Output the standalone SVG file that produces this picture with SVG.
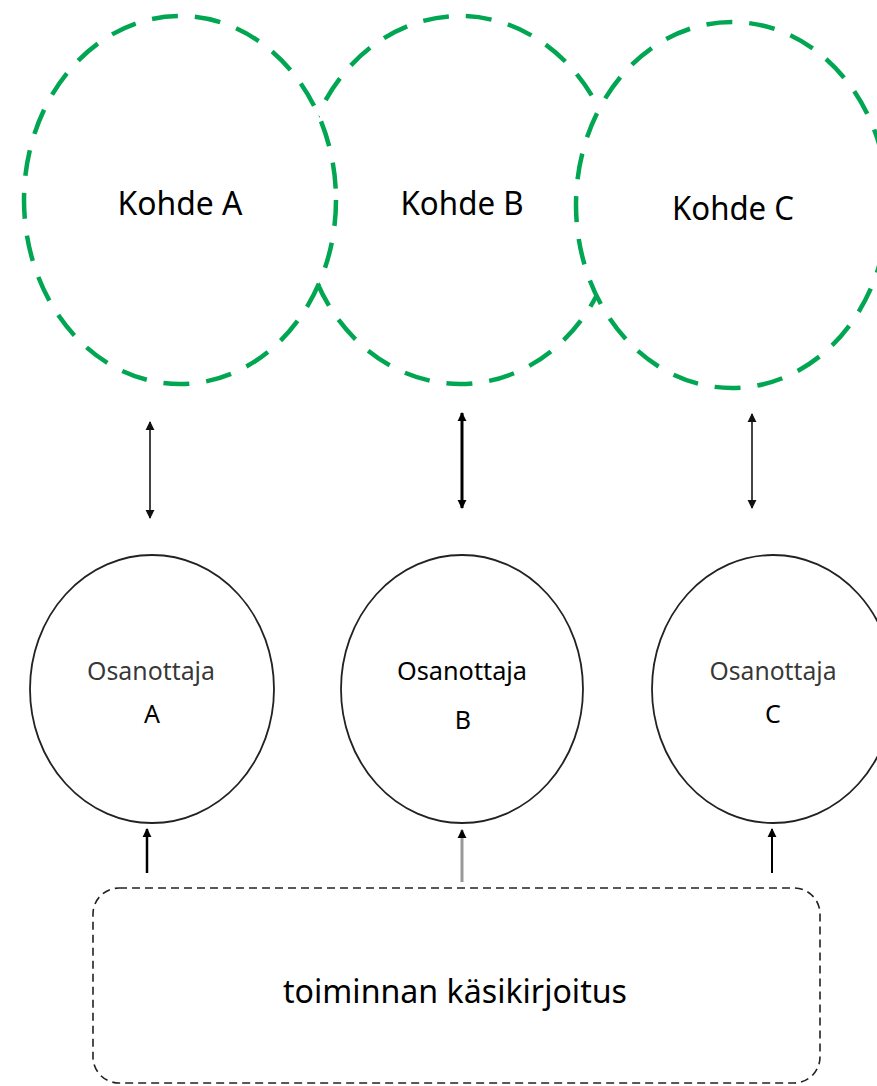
<svg xmlns="http://www.w3.org/2000/svg" width="877" height="1086" viewBox="0 0 877 1086">
<style>
.kohde{fill:#fff;stroke:#00a651;stroke-width:4.5;stroke-dasharray:26 17}
.osa{fill:#fff;stroke:#222;stroke-width:1.8}
.t{font-family:"Noto Sans","Liberation Sans",sans-serif;fill:#000;text-anchor:middle}
.big{font-size:32px}
.small{font-size:25px}
.box{fill:none;stroke:#222;stroke-width:1.6;stroke-dasharray:8 5}
</style>
<defs>
<marker id="ah" viewBox="0 0 10 10" refX="9" refY="5" markerWidth="9" markerHeight="11" markerUnits="userSpaceOnUse" orient="auto-start-reverse">
<path d="M0,0 L10,5 L0,10 z" fill="#000"/>
</marker>
<marker id="ahg" viewBox="0 0 10 10" refX="9" refY="5" markerWidth="9" markerHeight="11" markerUnits="userSpaceOnUse" orient="auto-start-reverse">
<path d="M0,0 L10,5 L0,10 z" fill="#111"/>
</marker>
</defs>
<rect width="877" height="1086" fill="#fff"/>
<g id="kohdeB">
<ellipse class="kohde" cx="460" cy="200" rx="160" ry="184"/>
<text class="t big" x="462" y="215" textLength="123" lengthAdjust="spacingAndGlyphs">Kohde B</text>
</g>
<g id="kohdeA">
<ellipse class="kohde" cx="180" cy="200" rx="156" ry="184"/>
<text class="t big" x="180" y="215" textLength="125" lengthAdjust="spacingAndGlyphs">Kohde A</text>
</g>
<g id="kohdeC">
<ellipse class="kohde" cx="732" cy="205" rx="156" ry="183"/>
<text class="t big" x="733" y="220" textLength="122" lengthAdjust="spacingAndGlyphs">Kohde C</text>
</g>
<g id="osanottajaA">
<ellipse class="osa" cx="152" cy="689" rx="122" ry="134"/>
<text class="t small" x="151" y="680" textLength="128" lengthAdjust="spacingAndGlyphs" fill-opacity="0.8">Osanottaja</text>
<text class="t small" x="152" y="723">A</text>
</g>
<g id="osanottajaB">
<ellipse class="osa" cx="462" cy="689" rx="121" ry="134"/>
<text class="t small" x="462" y="680" textLength="130" lengthAdjust="spacingAndGlyphs">Osanottaja</text>
<text class="t small" x="463" y="729">B</text>
</g>
<g id="osanottajaC">
<ellipse class="osa" cx="773" cy="689" rx="121" ry="134"/>
<text class="t small" x="773" y="680" textLength="127" lengthAdjust="spacingAndGlyphs" fill-opacity="0.8">Osanottaja</text>
<text class="t small" x="773" y="723">C</text>
</g>
<g id="kasikirjoitus">
<rect class="box" x="93" y="888" width="727" height="195" rx="26" ry="26"/>
<text class="t big" x="455" y="1003" textLength="344" lengthAdjust="spacingAndGlyphs">toiminnan käsikirjoitus</text>
</g>
<g id="connectors">
<line x1="150" y1="422" x2="150" y2="518" stroke="#444" stroke-width="2" marker-start="url(#ahg)" marker-end="url(#ahg)"/>
<line x1="462" y1="413" x2="462" y2="508" stroke="#000" stroke-width="3" marker-start="url(#ah)" marker-end="url(#ah)"/>
<line x1="752" y1="414" x2="752" y2="508" stroke="#444" stroke-width="2" marker-start="url(#ahg)" marker-end="url(#ahg)"/>
<line x1="147" y1="873" x2="147" y2="829" stroke="#000" stroke-width="2.5" marker-end="url(#ah)"/>
<line x1="462" y1="882" x2="462" y2="830" stroke="#999" stroke-width="3" marker-end="url(#ah)"/>
<line x1="772" y1="873" x2="772" y2="829" stroke="#000" stroke-width="2" marker-end="url(#ah)"/>
</g>
</svg>
